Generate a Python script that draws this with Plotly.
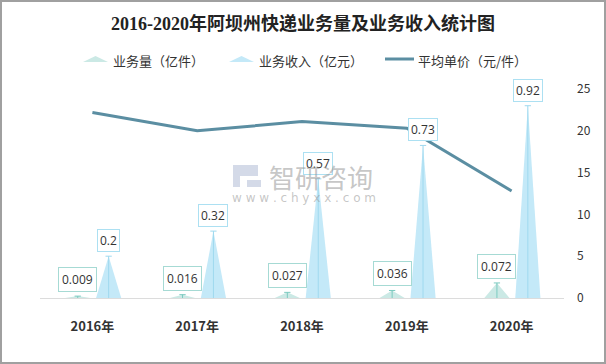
import plotly.graph_objects as go

years = ["2016年", "2017年", "2018年", "2019年", "2020年"]
volume = [0.009, 0.016, 0.027, 0.036, 0.072]      # 业务量（亿件）
revenue = [0.2, 0.32, 0.57, 0.73, 0.92]           # 业务收入（亿元）
price = [22.2, 20.0, 21.1, 20.3, 12.8]            # 平均单价（元/件）
right_ticks = [0, 5, 10, 15, 20, 25]

W, H = 606, 364
ML, MR, MT, MB = 40, 42, 89, 66
PW, PH = W - ML - MR, H - MT - MB


def px(x):
    return (x - ML) / PW


def py(y):
    return (H - MB - y) / PH


VOL_FILL = "#cbe9e5"
VOL_LINE = "#7ccac0"
REV_FILL = "#c4e9f8"
REV_LINE = "#9fd9ef"
LINE_COL = "#5b8ea2"

fig = go.Figure()

idx = list(range(len(years)))
off_v, off_r = -0.14, 0.155
hw = 0.12
cap = 0.03

for i, v in enumerate(volume):
    c = i + off_v
    fig.add_trace(go.Scatter(x=[c - hw, c, c + hw, c - hw], y=[0, v, 0, 0], fill="toself",
                             fillcolor=VOL_FILL, mode="lines", line=dict(width=0),
                             showlegend=False, hoverinfo="skip", yaxis="y"))
    fig.add_trace(go.Scatter(x=[c, c, None, c - cap, c + cap], y=[0, v, None, v, v], mode="lines",
                             line=dict(color=VOL_LINE, width=1), showlegend=False,
                             hoverinfo="skip", yaxis="y"))
    fig.add_annotation(x=c, y=v, xref="x", yref="y", text=str(v), showarrow=False,
                       yanchor="bottom", yshift=4, bgcolor="white", bordercolor="#a6dad4",
                       borderwidth=1, borderpad=3, font=dict(size=12, color="#333"))

for i, v in enumerate(revenue):
    c = i + off_r
    fig.add_trace(go.Scatter(x=[c - hw, c, c + hw, c - hw], y=[0, v, 0, 0], fill="toself",
                             fillcolor=REV_FILL, mode="lines", line=dict(width=0),
                             showlegend=False, hoverinfo="skip", yaxis="y"))
    fig.add_trace(go.Scatter(x=[c, c, None, c - cap, c + cap], y=[0, v, None, v, v], mode="lines",
                             line=dict(color=REV_LINE, width=1), showlegend=False,
                             hoverinfo="skip", yaxis="y"))
    fig.add_annotation(x=c, y=v, xref="x", yref="y", text=str(v), showarrow=False,
                       yanchor="bottom", yshift=4, bgcolor="white", bordercolor="#ace0f2",
                       borderwidth=1, borderpad=2, font=dict(size=12, color="#333"))

fig.add_trace(go.Scatter(x=idx, y=price, mode="lines", line=dict(color=LINE_COL, width=3),
                         showlegend=False, hoverinfo="skip", yaxis="y2"))

# custom legend
legend_items = [
    ("tri", VOL_FILL, 83, 108, "业务量（亿件）", 111),
    ("tri", REV_FILL, 229, 254, "业务收入（亿元）", 257),
    ("line", LINE_COL, 385, 414, "平均单价（元/件）", 416),
]
shapes = []
ly = 60
for kind, col, x0, x1, label, tx in legend_items:
    if kind == "tri":
        path = "M {a},{b} L {c},{d} L {e},{b} Z".format(
            a=px(x0), b=py(ly + 2), c=px((x0 + x1) / 2), d=py(ly - 4), e=px(x1))
        shapes.append(dict(type="path", path=path, xref="paper", yref="paper",
                           fillcolor=col, line=dict(width=0)))
    else:
        shapes.append(dict(type="line", x0=px(x0), x1=px(x1), y0=py(ly - 1), y1=py(ly - 1),
                           xref="paper", yref="paper", line=dict(color=col, width=3)))
    fig.add_annotation(x=px(tx), y=py(ly), xref="paper", yref="paper", text=label,
                       showarrow=False, xanchor="left", yanchor="middle",
                       font=dict(size=13, color="#333", family="Noto Sans CJK SC"))

# watermark
shapes.append(dict(type="path",
                   path="M {a},{b} L {c},{b} L {c},{d} L {e},{d} L {e},{f} L {a},{f} Z".format(
                       a=px(233), b=py(165), c=px(258), d=py(176), e=px(240), f=py(187)),
                   xref="paper", yref="paper", fillcolor="rgba(170,182,210,0.5)",
                   line=dict(width=0)))
shapes.append(dict(type="rect", x0=px(247), x1=px(261), y0=py(187), y1=py(180), xref="paper",
                   yref="paper", fillcolor="rgba(170,182,210,0.5)", line=dict(width=0)))
fig.add_annotation(x=px(267), y=py(176), xref="paper", yref="paper", text="智研咨询",
                   showarrow=False, xanchor="left", yanchor="middle",
                   font=dict(size=26, color="rgba(150,150,150,0.55)", family="Noto Sans CJK SC"))
fig.add_annotation(x=px(304), y=py(198), xref="paper", yref="paper",
                   text="w w w . c h y x x . c o m", showarrow=False, xanchor="center",
                   yanchor="middle", font=dict(size=12, color="rgba(150,150,150,0.55)",
                                               family="DejaVu Sans"))

# outer border
shapes.append(dict(type="rect", x0=px(1), x1=px(605), y0=py(363), y1=py(1), xref="paper",
                   yref="paper", line=dict(color="#a0a0a0", width=2), fillcolor="rgba(0,0,0,0)"))

fig.update_layout(
    width=W, height=H,
    margin=dict(l=ML, r=MR, t=MT, b=MB),
    paper_bgcolor="white", plot_bgcolor="white",
    title=dict(text="<b>2016-2020年阿坝州快递业务量及业务收入统计图</b>", x=0.5, xanchor="center",
               y=1 - 24 / H, yanchor="middle",
               font=dict(size=18, color="#222", family="Liberation Serif, Noto Sans CJK SC")),
    xaxis=dict(range=[-0.5, 4.5], tickmode="array", tickvals=idx,
               ticktext=["<b>%s</b>" % y for y in years], showgrid=False, zeroline=False,
               showline=True, linecolor="#dcdcdc", linewidth=1, ticks="",
               ticklabelstandoff=16, tickfont=dict(size=13, color="#333",
                                                   family="Noto Sans CJK SC")),
    yaxis=dict(range=[0, 1], visible=False, showgrid=False, zeroline=False),
    yaxis2=dict(range=[0, 25], overlaying="y", side="right", tickmode="array",
                tickvals=right_ticks, showgrid=False, zeroline=False, showline=False,
                ticks="", ticklabelstandoff=12,
                tickfont=dict(size=12, color="#333", family="Noto Sans CJK SC")),
    shapes=shapes,
    showlegend=False,
)

fig.write_html("out.html", config={"displayModeBar": False},
               post_script="document.body.style.margin='0';document.body.style.overflow='hidden';")
